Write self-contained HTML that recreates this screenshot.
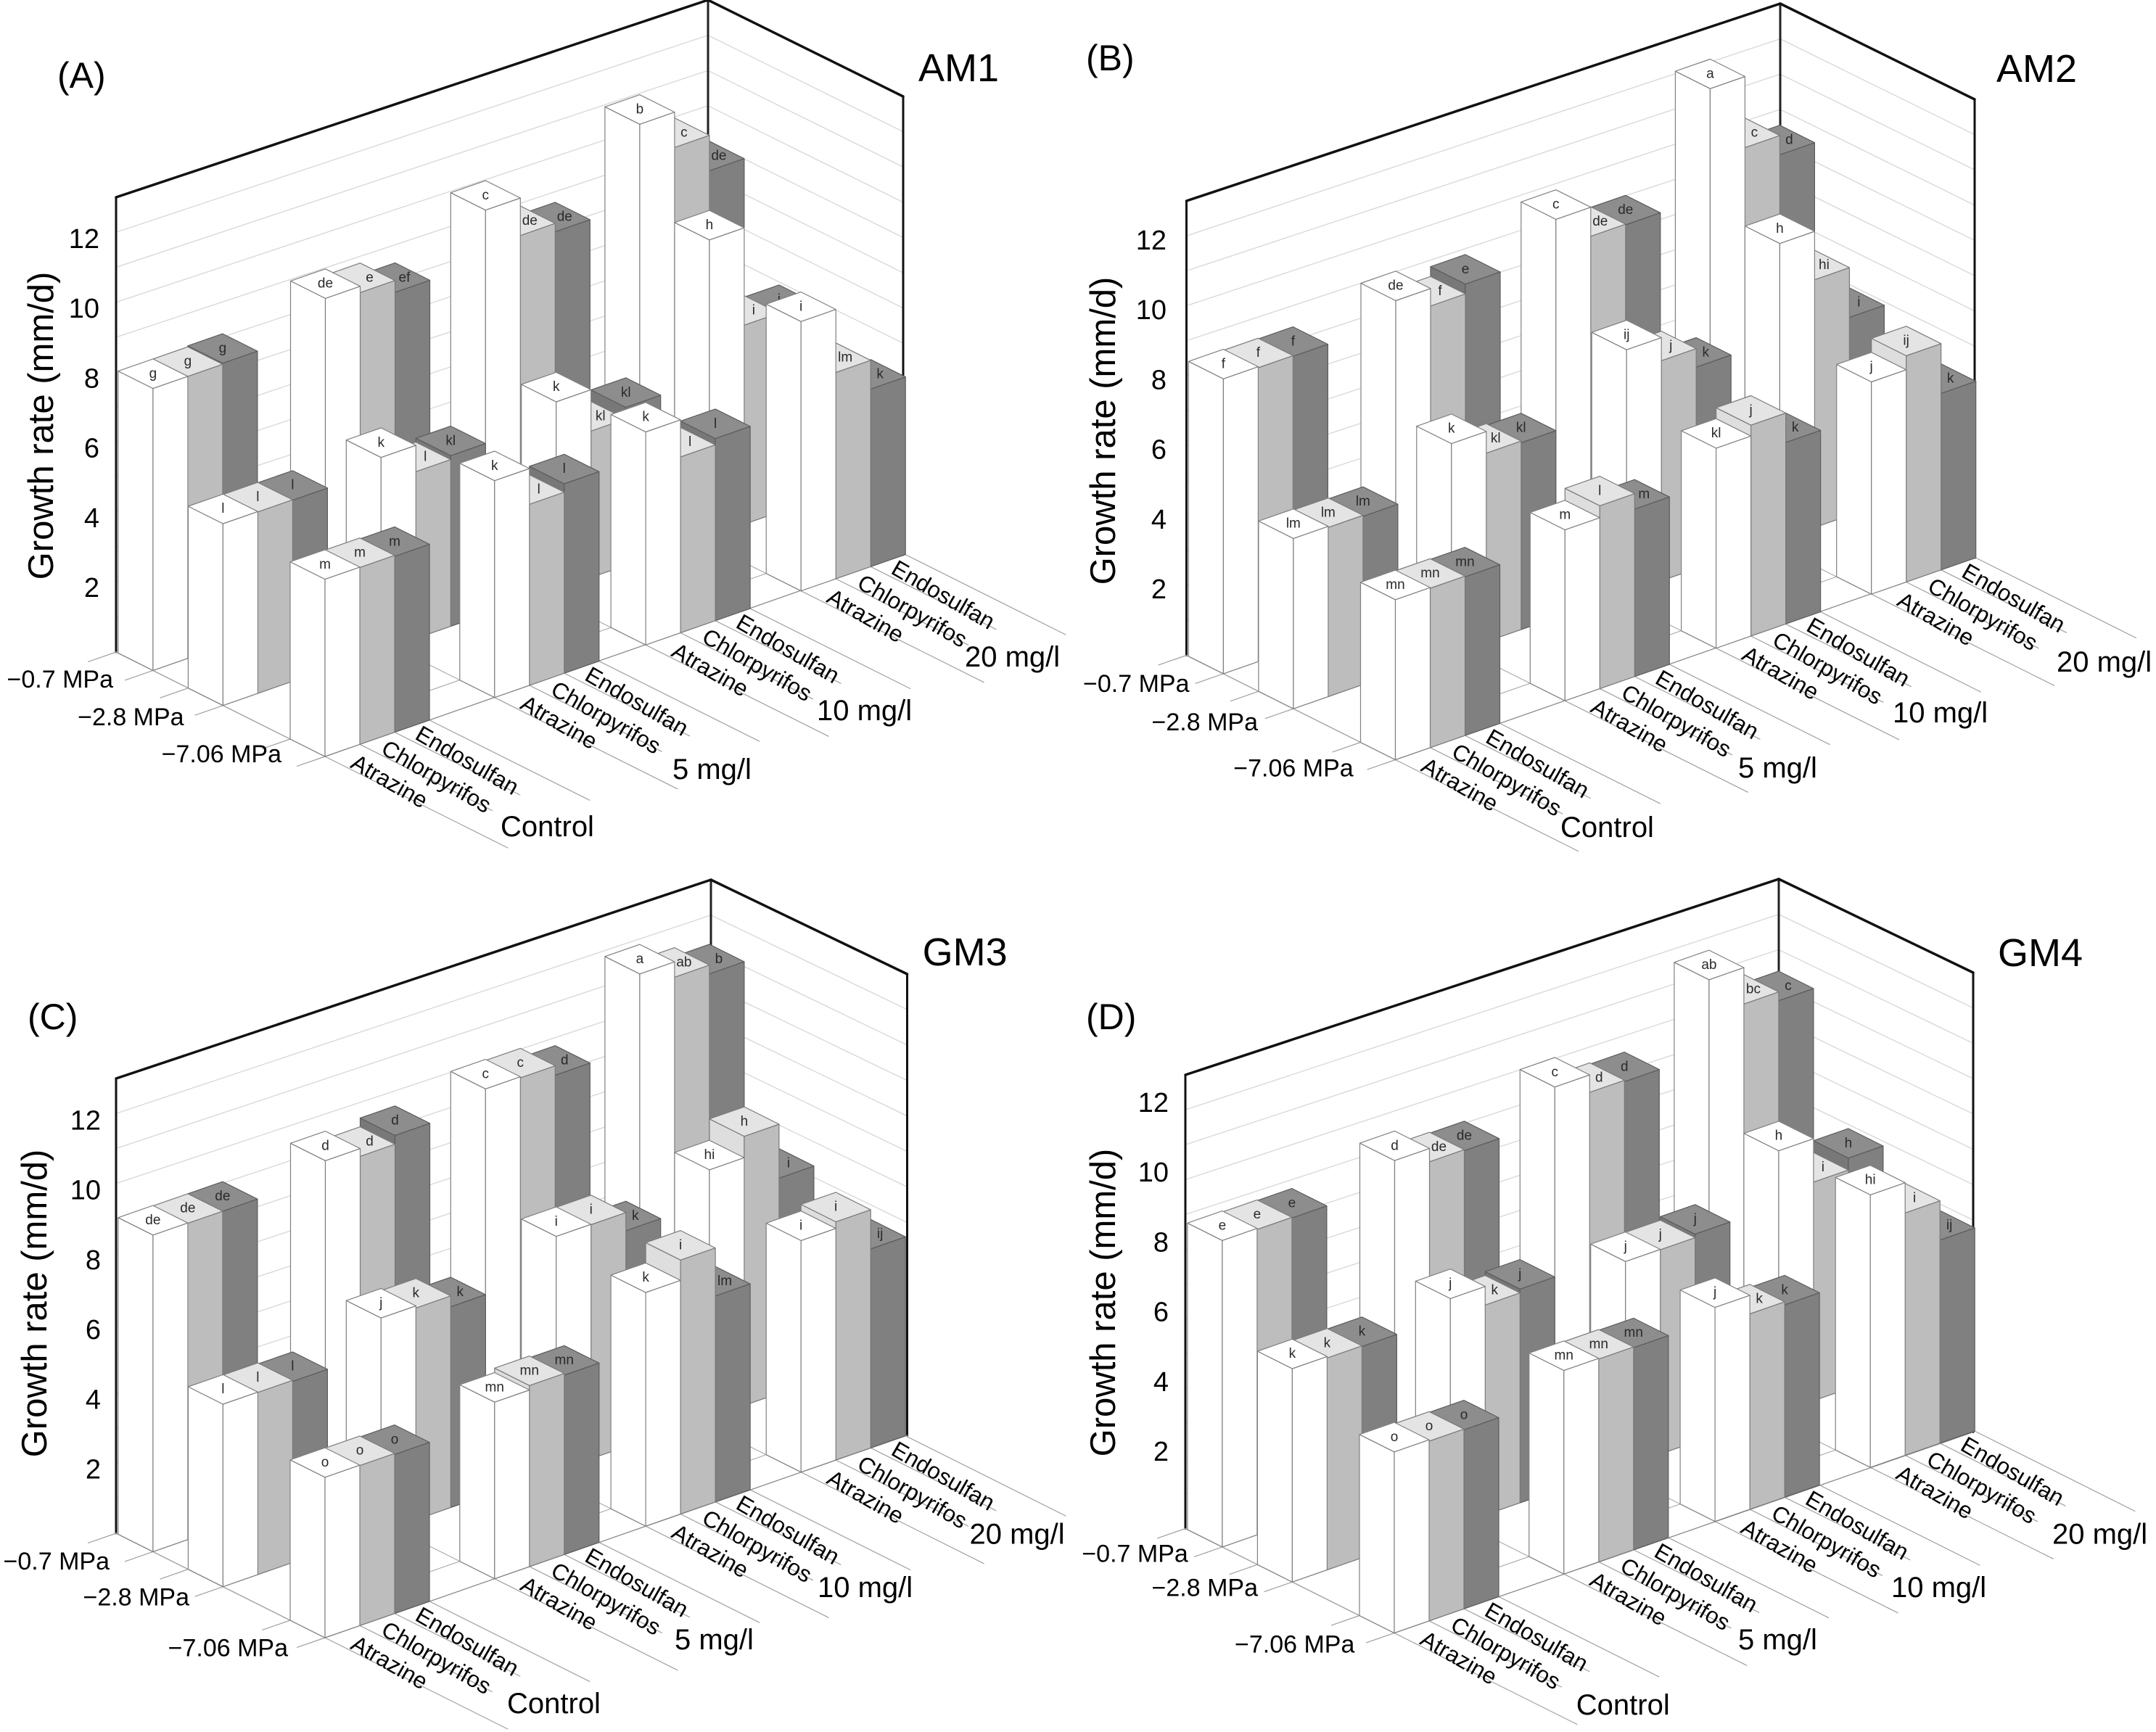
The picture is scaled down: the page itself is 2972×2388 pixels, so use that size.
<!DOCTYPE html>
<html lang="en">
<head>
<meta charset="utf-8">
<title>Growth rate of AM1, AM2, GM3 and GM4</title>
<style>
html,body{margin:0;padding:0;background:#fff;}
svg{display:block;font-family:"Liberation Sans",sans-serif;}
</style>
</head>
<body>
<svg id="figure" xmlns="http://www.w3.org/2000/svg" width="2972" height="2388" viewBox="0 0 2972 2388">
<rect x="0" y="0" width="2972" height="2388" fill="#ffffff"/>
</svg>
<script>
// ---- categories ----
const concentrations = ['Control', '5 mg/l', '10 mg/l', '20 mg/l'];
const pressures = ['\u22120.7 MPa', '\u22122.8 MPa', '\u22127.06 MPa'];
const treatments = ['Atrazine', 'Chlorpyrifos', 'Endosulfan'];
const zTicks = [2, 4, 6, 8, 10, 12];

// ---- values: [pressure][concentration][treatment] ----
const am1Rates = [
  [[8.05,8.05,8.08],[8.91,8.73,8.39],[9.84,8.77,8.53],[10.76,9.75,8.74]],
  [[5.19,5.18,5.17],[5.51,4.76,4.87],[5.36,4.18,4.51],[8.46,5.68,5.64]],
  [[5.06,5.05,5.02],[6.19,5.17,5.41],[6.08,5.02,5.2],[7.69,5.89,5.07]]
];
const am2Rates = [
  [[8.42,8.39,8.37],[8.94,8.44,8.72],[9.67,8.84,8.82],[11.87,9.84,9.29]],
  [[4.86,4.83,4.8],[6.0,5.38,5.33],[6.94,6.28,5.75],[8.45,7.07,5.65]],
  [[4.57,4.55,4.53],[4.88,5.22,4.78],[5.71,6.02,5.18],[6.06,6.46,5.04]]
];
const gm3Rates = [
  [[9.04,9.03,9.03],[9.45,9.23,9.48],[9.91,9.88,9.61],[11.66,11.22,10.97]],
  [[5.21,5.2,5.17],[6.1,6.04,5.73],[6.69,6.68,6.16],[7.07,7.68,6.14]],
  [[4.58,4.57,4.54],[5.04,5.17,5.12],[6.67,7.25,5.88],[6.61,6.8,5.68]]
];
const gm4Rates = [
  [[8.75,8.72,8.7],[9.32,8.94,8.91],[9.83,9.33,9.29],[11.36,10.32,10.07]],
  [[6.09,6.05,6.03],[6.52,5.99,6.1],[5.84,5.83,5.93],[7.48,6.24,6.58]],
  [[5.17,5.13,5.11],[5.81,5.79,5.77],[6.11,5.58,5.49],[7.78,6.92,5.8]]
];

// ---- printed significance letters ----
const am1Letters = [
  [['g','g','g'],['de','e','ef'],['c','de','de'],['b','c','de']],
  [['l','l','l'],['k','l','kl'],['k','kl','kl'],['h','i','i']],
  [['m','m','m'],['k','l','l'],['k','l','l'],['i','lm','k']]
];
const am2Letters = [
  [['f','f','f'],['de','f','e'],['c','de','de'],['a','c','d']],
  [['lm','lm','lm'],['k','kl','kl'],['ij','j','k'],['h','hi','i']],
  [['mn','mn','mn'],['m','l','m'],['kl','j','k'],['j','ij','k']]
];
const gm3Letters = [
  [['de','de','de'],['d','d','d'],['c','c','d'],['a','ab','b']],
  [['l','l','l'],['j','k','k'],['i','i','k'],['hi','h','i']],
  [['o','o','o'],['mn','mn','mn'],['k','i','lm'],['i','i','ij']]
];
const gm4Letters = [
  [['e','e','e'],['d','de','de'],['c','d','d'],['ab','bc','c']],
  [['k','k','k'],['j','k','j'],['j','j','j'],['h','i','h']],
  [['o','o','o'],['mn','mn','mn'],['j','k','k'],['hi','i','ij']]
];

// ---- axis configuration (in bar-width units) ----
const UX = {x: 48, y: -16.7};
const UY = {x: 48, y: 24};
const ZS = 48.3;
const pressureStops = [1.06, 3.07, 6.0];
const rowConcStops = [
  [0, 4.95, 9.55, 13.98],
  [0, 4.54, 9.57, 13.97],
  [0, 4.87, 9.21, 13.67]
];
const depthTickStops = [0, 1.06, 2.07, 3.07, 5.0, 6.0];
const forwardLineLengths = [5.25, 3.8, 3.6, 4.6];
const gridLevels = [1,2,3,4,5,6,7,8,9,10,11,12];

const panelLayouts = [
  {id:'am1', title:'AM1', letter:'(A)', rates:am1Rates, letters:am1Letters,
   ox:160, oy:899, ltop:272, bx:976, bbot:632, btop:0, rx:1245, rbot:765, rtop:133,
   letterXY:[79,104], titleXY:[1266,94], yTitleXY:[73,587], tickRight:137, tick2:811,
   pressXY:[[156,937],[253.6,989],[388,1040]],
   concXY:[[690,1140],[927,1061],[1126,980],[1330,906]]},
  {id:'am2', title:'AM2', letter:'(B)', rates:am2Rates, letters:am2Letters,
   ox:1635.5, oy:903.5, ltop:277, bx:2454, bbot:637, btop:5, rx:2722, rbot:769, rtop:137,
   letterXY:[1497,80], titleXY:[2752,95], yTitleXY:[1537,594], tickRight:1608, tick2:813,
   pressXY:[[1639.5,943],[1734,996],[1865.7,1059.5]],
   concXY:[[2151,1141],[2396,1059],[2609,983],[2835,913]]},
  {id:'gm3', title:'GM3', letter:'(C)', rates:gm3Rates, letters:gm3Letters,
   ox:160, oy:2114, ltop:1487, bx:980, bbot:1847, btop:1213, rx:1250.5, rbot:1979, rtop:1343,
   letterXY:[38,1402], titleXY:[1271.6,1313], yTitleXY:[64,1797], tickRight:139, tick2:2026.5,
   pressXY:[[151,2152.8],[261,2202.7],[397,2272.7]],
   concXY:[[699,2349],[930,2261],[1127,2189],[1336.5,2115.7]]},
  {id:'gm4', title:'GM4', letter:'(D)', rates:gm4Rates, letters:gm4Letters,
   ox:1634, oy:2107.5, ltop:1482, bx:2452, bbot:1845, btop:1212, rx:2720, rbot:1974.5, rtop:1341,
   letterXY:[1497,1402], titleXY:[2754,1314], yTitleXY:[1537,1796], tickRight:1611, tick2:2002,
   pressXY:[[1637.8,2142.4],[1734,2189.5],[1867.4,2267.6]],
   concXY:[[2172.8,2351],[2396,2261],[2607,2189],[2829,2115.6]]}
];

const faceStyles = [
  {left:'#ffffff', right:'#ffffff', top:'#ffffff', edge:'#808080'},
  {left:'#dedede', right:'#bdbdbd', top:'#e4e4e4', edge:'#7a7a7a'},
  {left:'#787878', right:'#808080', top:'#8d8d8d', edge:'#5c5c5c'}
];

const NS = 'http://www.w3.org/2000/svg';
const figure = document.getElementById('figure');

function project(panel, xb, yb, z) {
  return [panel.ox + xb * UX.x + yb * UY.x, panel.oy + xb * UX.y + yb * UY.y - z * ZS];
}
function concAxis(rowIndex, concIndex) { return rowConcStops[rowIndex][concIndex]; }
function pressureAxis(rowIndex) { return pressureStops[rowIndex]; }
function kebab(s) { return s.toLowerCase().replace(/\u2212/g, 'minus-').replace(/[^a-z0-9]+/g, '-').replace(/^-|-$/g, ''); }

function addLine(parent, name, a, b, color, width) {
  const el = document.createElementNS(NS, 'line');
  
  
  el.setAttribute('x1', a[0]);
  el.setAttribute('y1', a[1]);
  el.setAttribute('x2', b[0]);
  el.setAttribute('y2', b[1]);
  el.setAttribute('stroke', color);
  el.setAttribute('stroke-width', width);
  el.setAttribute('stroke-linecap', 'round');
  parent.appendChild(el);
  return el;
}
function addPoly(parent, name, pts, fill, edge) {
  const el = document.createElementNS(NS, 'polygon');
  
  
  el.setAttribute('points', pts.map(function (p) { return p[0].toFixed(1) + ',' + p[1].toFixed(1); }).join(' '));
  el.setAttribute('fill', fill);
  el.setAttribute('stroke', edge);
  el.setAttribute('stroke-width', '1.2');
  el.setAttribute('stroke-linejoin', 'round');
  parent.appendChild(el);
  return el;
}
function addText(parent, name, str, x, y, size, anchor, transform, color) {
  const el = document.createElementNS(NS, 'text');
  
  
  el.setAttribute('x', x);
  el.setAttribute('y', y);
  el.setAttribute('font-size', size);
  el.setAttribute('text-anchor', anchor);
  el.setAttribute('dominant-baseline', 'central');
  el.setAttribute('fill', color || '#000');
  if (transform) el.setAttribute('transform', transform);
  el.textContent = str;
  parent.appendChild(el);
  return el;
}
function addGroup(parent, name) {
  const el = document.createElementNS(NS, 'g');
  
  
  parent.appendChild(el);
  return el;
}

function drawFrame(panel, g) {
  const lerp = function (a, b, t) { return a + (b - a) * t; };
  gridLevels.forEach(function (lv) {
    const t = lv / 13;
    const l = [panel.ox, lerp(panel.oy, panel.ltop, t)];
    const b = [panel.bx, lerp(panel.bbot, panel.btop, t)];
    const r = [panel.rx, lerp(panel.rbot, panel.rtop, t)];
    addLine(g, 'left-wall-gridline', l, b, '#d9d9d9', 1.4);
    addLine(g, 'right-wall-gridline', b, r, '#d9d9d9', 1.4);
  });
  addLine(g, 'back-edge', [panel.bx, panel.btop], [panel.bx, panel.bbot], '#222', 3);
  addLine(g, 'left-wall-top-edge', [panel.ox, panel.ltop], [panel.bx, panel.btop], '#111', 3.5);
  addLine(g, 'right-wall-top-edge', [panel.bx, panel.btop], [panel.rx, panel.rtop], '#111', 3.5);
  addLine(g, 'left-edge', [panel.ox, panel.ltop], [panel.ox, panel.oy], '#111', 3);
  addLine(g, 'right-edge', [panel.rx, panel.rtop], [panel.rx, panel.rbot], '#111', 3);
}

function drawFloor(panel, g) {
  const xEnd = rowConcStops[2][3] + 3;
  depthTickStops.forEach(function (yb) {
    addLine(g, 'pressure-tick', project(panel, -0.8, yb, 0), project(panel, 0, yb, 0), '#a0a0a0', 1.2);
    if (yb > 0 && yb < 6) addLine(g, 'floor-row-line', project(panel, 0, yb, 0), project(panel, xEnd, yb, 0), '#a8a8a8', 1.1);
  });
  addLine(g, 'floor-left-edge', project(panel, 0, 0, 0), project(panel, 0, 6, 0), '#8a8a8a', 1.3);
  addLine(g, 'floor-front-edge', project(panel, 0, 6, 0), [panel.rx, panel.rbot], '#8a8a8a', 1.3);
  concentrations.forEach(function (c, ci) {
    const s = concAxis(2, ci);
    [0, 3].forEach(function (t) {
      addLine(g, 'floor-depth-line', project(panel, s + t, 0, 0), project(panel, s + t, 6, 0), '#a8a8a8', 1.1);
    });
    forwardLineLengths.forEach(function (len, t) {
      addLine(g, 'treatment-guide-line', project(panel, s + t, 6, 0), project(panel, s + t, 6 + len, 0), '#a0a0a0', 1.2);
    });
  });
}

function drawBar(panel, g, p, c, t) {
  const value = panel.rates[p][c][t];
  const letter = panel.letters[p][c][t];
  const style = faceStyles[t];
  const X = concAxis(p, c) + t;
  const Y = pressureAxis(p);
  const bar = addGroup(g, 'bar-' + panel.id + '-' + kebab(concentrations[c]) + '-' + kebab(pressures[p]) + '-' + kebab(treatments[t]));
  const fb = project(panel, X, Y, 0), rb = project(panel, X + 1, Y, 0), lb = project(panel, X, Y - 1, 0);
  const ft = project(panel, X, Y, value), rt = project(panel, X + 1, Y, value);
  const lt = project(panel, X, Y - 1, value), bt = project(panel, X + 1, Y - 1, value);
  addPoly(bar, 'bar-left-face', [lb, fb, ft, lt], style.left, style.edge);
  addPoly(bar, 'bar-front-face', [fb, rb, rt, ft], style.right, style.edge);
  addPoly(bar, 'bar-top-face', [lt, ft, rt, bt], style.top, style.edge);
  let shift = 0;
  if (t > 0 && panel.rates[p][c][t - 1] - value > 0.15) shift = 13;
  addText(bar, 'bar-significance-letter', letter, ft[0] + shift, (ft[1] + bt[1]) / 2, 19, 'middle', null, '#2a2a2a');
}

function drawAxesText(panel, g) {
  zTicks.forEach(function (v) {
    addText(g, 'y-tick-label-' + v, String(v), panel.tickRight, panel.tick2 - (v - 2) * 48.1, 38, 'end');
  });
  const yx = panel.yTitleXY[0], yy = panel.yTitleXY[1];
  const yTitle = addText(g, 'y-axis-title', 'Growth rate (mm/d)', yx, yy, 49, 'middle', 'rotate(-90 ' + yx + ' ' + yy + ')');
  yTitle.setAttribute('dominant-baseline', 'alphabetic');
  pressures.forEach(function (label, i) {
    addText(g, 'pressure-label-' + kebab(label), label, panel.pressXY[i][0], panel.pressXY[i][1], 34, 'end');
  });
  const treatOffsets = [[39, 5], [33, 2], [32, -1]];
  concentrations.forEach(function (conc, ci) {
    const s = concAxis(2, ci);
    treatments.forEach(function (name, t) {
      const pt = project(panel, s + t, 6, 0);
      const tx = pt[0] + treatOffsets[t][0], ty = pt[1] + treatOffsets[t][1];
      addText(g, 'treatment-label-' + kebab(name), name, tx, ty, 31.5, 'start', 'rotate(30 ' + tx + ' ' + ty + ')');
    });
    addText(g, 'concentration-label-' + kebab(conc), conc, panel.concXY[ci][0], panel.concXY[ci][1], 40, 'start');
  });
  addText(g, 'panel-letter', panel.letter, panel.letterXY[0], panel.letterXY[1], 50, 'start');
  addText(g, 'panel-title', panel.title, panel.titleXY[0], panel.titleXY[1], 54, 'start');
}

panelLayouts.forEach(function (panel) {
  const g = addGroup(figure, 'panel-' + panel.id);
  drawFrame(panel, addGroup(g, 'chart-walls'));
  drawFloor(panel, addGroup(g, 'chart-floor'));
  const bars = addGroup(g, 'bars');
  for (let p = 0; p < pressures.length; p++) {
    for (let c = concentrations.length - 1; c >= 0; c--) {
      for (let t = treatments.length - 1; t >= 0; t--) {
        drawBar(panel, bars, p, c, t);
      }
    }
  }
  drawAxesText(panel, addGroup(g, 'axis-text'));
});
</script>
</body>
</html>
